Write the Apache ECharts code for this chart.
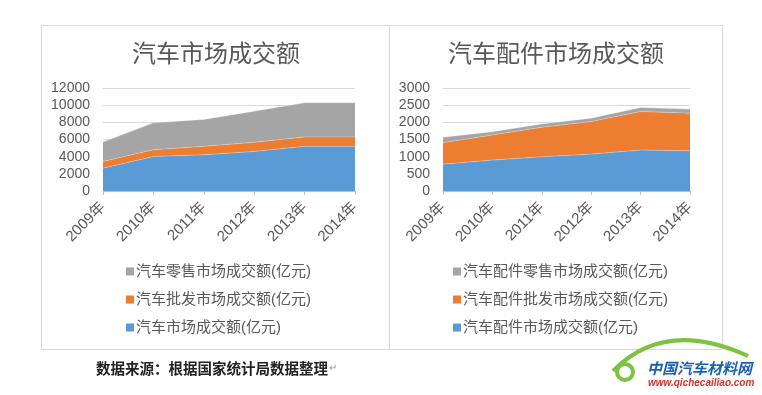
<!DOCTYPE html>
<html><head><meta charset="utf-8">
<script src="https://cdn.jsdelivr.net/npm/echarts@6/dist/echarts.min.js"></script>
<style>html,body{margin:0;padding:0;background:#fff}#c{width:762px;height:395px}</style>
</head><body><div id="c"></div>
<script>
const years = ['2009年','2010年','2011年','2012年','2013年','2014年'];
// Left chart: 汽车市场
const carMarket = [2660, 4020, 4220, 4610, 5200, 5200];
const carWholesale = [780, 790, 980, 1060, 1100, 1100];
const carRetail = [2270, 3130, 3130, 3630, 3980, 3980];
// Right chart: 汽车配件市场
const partsMarket = [782, 900, 997, 1075, 1192, 1172];
const partsWholesale = [625, 732, 860, 947, 1123, 1096];
const partsRetail = [156, 97, 97, 99, 117, 117];

const leftNames = ['汽车市场成交额(亿元)','汽车批发市场成交额(亿元)','汽车零售市场成交额(亿元)'];
const rightNames = ['汽车配件市场成交额(亿元)','汽车配件批发市场成交额(亿元)','汽车配件零售市场成交额(亿元)'];
const colors = ['#5b9bd5','#ed7d31','#a5a5a5'];
const FF = '"Liberation Sans","Noto Sans CJK SC",sans-serif';
const grey = '#595959';

function xAxis(gi){return {type:'category',gridIndex:gi,data:years,boundaryGap:false,
  axisLine:{lineStyle:{color:'#bfbfbf'}},axisTick:{show:true,length:4,lineStyle:{color:'#bfbfbf'}},
  axisLabel:{rotate:45,color:grey,fontSize:15,fontFamily:FF,margin:14}};}
function yAxis(gi,max,interval){return {type:'value',gridIndex:gi,min:0,max:max,interval:interval,
  axisLine:{show:false},axisTick:{show:false},splitLine:{lineStyle:{color:'#d9d9d9'}},
  axisLabel:{color:grey,fontSize:14,fontFamily:FF,margin:13,formatter:function(v){return String(v);}}};}
function ser(name,data,gi,stack,ci){return {name:name,type:'line',xAxisIndex:gi,yAxisIndex:gi,stack:stack,
  data:data,showSymbol:false,symbol:'none',lineStyle:{width:0.8,color:'rgba(255,255,255,0.35)'},
  itemStyle:{color:colors[ci]},areaStyle:{color:colors[ci],opacity:1},z:2};}

const chart = echarts.init(document.getElementById('c'),null,{renderer:'canvas'});
chart.setOption({
  animation:false,
  textStyle:{fontFamily:FF},
  title:[
    {text:'汽车市场成交额',left:211,top:38,textAlign:'center',textStyle:{fontSize:24,fontWeight:'normal',color:grey,fontFamily:FF}},
    {text:'汽车配件市场成交额',left:551,top:38,textAlign:'center',textStyle:{fontSize:24,fontWeight:'normal',color:grey,fontFamily:FF}}
  ],
  legend:[
    {orient:'vertical',left:121,top:259,itemWidth:8,itemHeight:8,itemGap:13,icon:'rect',
     data:[leftNames[2],leftNames[1],leftNames[0]],textStyle:{fontSize:15,color:grey,fontFamily:FF,padding:[0,0,0,-3]}},
    {orient:'vertical',left:448,top:259,itemWidth:8,itemHeight:8,itemGap:13,icon:'rect',
     data:[rightNames[2],rightNames[1],rightNames[0]],textStyle:{fontSize:15,color:grey,fontFamily:FF,padding:[0,0,0,-3]}}
  ],
  grid:[
    {left:103,right:407,top:88,bottom:204},
    {left:443,right:72,top:88,bottom:204}
  ],
  xAxis:[xAxis(0),xAxis(1)],
  yAxis:[yAxis(0,12000,2000),yAxis(1,3000,500)],
  series:[
    ser(leftNames[0],carMarket,0,'a',0),
    ser(leftNames[1],carWholesale,0,'a',1),
    ser(leftNames[2],carRetail,0,'a',2),
    ser(rightNames[0],partsMarket,1,'b',0),
    ser(rightNames[1],partsWholesale,1,'b',1),
    ser(rightNames[2],partsRetail,1,'b',2)
  ],
  graphic:[
    {type:'rect',shape:{x:41.5,y:25.5,width:681,height:324},style:{fill:'none',stroke:'#d9d9d9',lineWidth:1},silent:true},
    {type:'line',shape:{x1:389.5,y1:25.5,x2:389.5,y2:349.5},style:{stroke:'#d9d9d9',lineWidth:1},silent:true},
    {type:'text',x:96,y:361,style:{text:'数据来源：根据国家统计局数据整理',fontSize:14.5,fontWeight:'bold',fill:'#222',fontFamily:'"Noto Sans CJK SC",sans-serif'}},
    {type:'text',x:329,y:363,style:{text:'↵',fontSize:10,fill:'#999',fontFamily:FF}},
    {type:'bezierCurve',shape:{x1:613,y1:371,x2:748,y2:356,cpx1:665,cpy1:318},style:{fill:'none',stroke:'#7dc242',lineWidth:4},silent:true},
    {type:'circle',shape:{cx:625,cy:372,r:8},style:{fill:'none',stroke:'#7dc242',lineWidth:4},silent:true},
    {type:'text',x:647,y:361,style:{text:'中国汽车材料网',fontSize:15,fontWeight:'bold',fontStyle:'italic',fill:'#1a5fb4',fontFamily:'"Noto Sans CJK SC",sans-serif'}},
    {type:'text',x:648,y:378,style:{text:'www.qichecailiao.com',fontSize:10,fontWeight:'bold',fontStyle:'italic',fill:'#d9302a',fontFamily:'"Liberation Sans",sans-serif'}}
  ]
});
</script></body></html>
